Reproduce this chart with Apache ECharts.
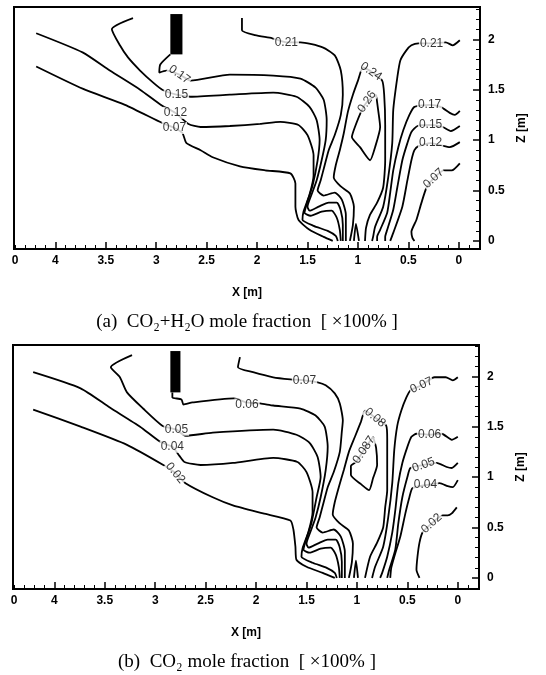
<!DOCTYPE html>
<html>
<head>
<meta charset="utf-8">
<script src="https://cdn.jsdelivr.net/npm/echarts@6/dist/echarts.min.js"></script>
<style>
  html, body { margin: 0; padding: 0; background: #fff; }
  #chart { width: 546px; height: 675px; }
</style>
</head>
<body>
<div id="chart"></div>
<script>
// axis ticks
const xMajor = [0, 0.5, 1, 1.5, 2, 2.5, 3, 3.5, 4];
const xLabelVals = [0, 0.5, 1, 1.5, 2, 2.5, 3, 3.5, 4, 4.4];
const xMinor = [-0.2, -0.1, 0.1, 0.2, 0.3, 0.4, 0.6, 0.7, 0.8, 0.9, 1.1, 1.2, 1.3, 1.4, 1.6, 1.7, 1.8, 1.9,
  2.1, 2.2, 2.3, 2.4, 2.6, 2.7, 2.8, 2.9, 3.1, 3.2, 3.3, 3.4, 3.6, 3.7, 3.8, 3.9, 4.1, 4.2, 4.3, 4.4];
const zMajor = [0, 0.5, 1, 1.5, 2];
const zMinor = [0.1, 0.2, 0.3, 0.4, 0.6, 0.7, 0.8, 0.9, 1.1, 1.2, 1.3, 1.4, 1.6, 1.7, 1.8, 1.9, 2.1, 2.2, 2.3];

// (a) CO2+H2O contours, [x, z] in m
const a07L = [[4.19,1.73],[3.73,1.51],[3.31,1.35],[2.94,1.17],[2.82,1.12],[2.74,1.07],[2.70,0.97],[2.56,0.90],[2.44,0.83],[2.17,0.74],[1.92,0.70],[1.67,0.67],[1.62,0.57],[1.62,0.34],[1.59,0.21],[1.48,0.11],[1.34,0.04],[1.25,0]];
const a12L = [[4.19,2.06],[3.73,1.87],[3.46,1.69],[3.16,1.50],[2.94,1.34],[2.81,1.27],[2.68,1.16],[2.56,1.13],[2.27,1.14],[1.97,1.16],[1.77,1.18],[1.59,1.15],[1.50,1.05],[1.44,0.85],[1.44,0.65],[1.48,0.46],[1.54,0.29],[1.55,0.21],[1.44,0.15],[1.30,0.10],[1.22,0.05],[1.20,0]];
const a15L = [[3.23,2.21],[3.44,2.10],[3.36,1.94],[3.28,1.82],[3.16,1.69],[3.03,1.57],[2.94,1.50],[2.80,1.45],[2.66,1.43],[2.27,1.45],[1.84,1.47],[1.61,1.43],[1.48,1.33],[1.41,1.20],[1.38,1.00],[1.40,0.80],[1.45,0.55],[1.51,0.36],[1.53,0.28],[1.47,0.25],[1.36,0.29],[1.26,0.30],[1.21,0.23],[1.18,0.11],[1.17,0]];
const a17L = [[2.86,1.85],[2.96,1.75],[2.97,1.67],[2.90,1.69],[2.77,1.65],[2.66,1.59],[2.27,1.65],[1.84,1.64],[1.57,1.61],[1.42,1.52],[1.34,1.40],[1.31,1.20],[1.32,1.00],[1.36,0.80],[1.41,0.60],[1.46,0.46],[1.50,0.34],[1.48,0.30],[1.39,0.34],[1.29,0.38],[1.21,0.38],[1.17,0.30],[1.15,0.16],[1.15,0]];
const a21L = [[2.15,2.21],[2.15,2.09],[2.02,2.04],[1.85,2.01],[1.71,1.97],[1.57,1.97],[1.35,1.92],[1.23,1.84],[1.17,1.69],[1.15,1.45],[1.17,1.25],[1.23,1.05],[1.29,0.90],[1.33,0.75],[1.37,0.60],[1.40,0.50],[1.34,0.45],[1.23,0.48],[1.16,0.41],[1.12,0.26],[1.12,0]];
const a24 = [[1.08,0],[1.05,0.16],[1.04,0.34],[1.08,0.47],[1.17,0.54],[1.24,0.63],[1.22,0.75],[1.18,0.90],[1.14,1.07],[1.10,1.28],[1.05,1.45],[1.00,1.59],[0.95,1.72],[0.87,1.68],[0.76,1.59],[0.74,1.45],[0.73,1.15],[0.73,0.80],[0.75,0.53],[0.81,0.38],[0.88,0.26],[0.92,0.13],[0.93,0]];
const a26 = [[0.82,1.45],[0.80,1.30],[0.78,1.13],[0.83,0.93],[0.88,0.80],[0.98,0.93],[1.06,1.03],[1.03,1.13],[0.96,1.30],[0.91,1.38],[0.82,1.45]];
const aSpike = [[1.04,0],[1.02,0.17],[0.99,0]];
const a21R = [[0.86,0],[0.85,0.04],[0.83,0.14],[0.75,0.34],[0.70,0.63],[0.66,0.97],[0.65,1.30],[0.61,1.62],[0.58,1.79],[0.52,1.89],[0.47,1.94],[0.40,1.96],[0.27,1.96],[0.13,1.97],[0.06,1.94],[-0.01,1.99]];
const a17R = [[0.81,0],[0.81,0.04],[0.78,0.11],[0.71,0.28],[0.68,0.48],[0.65,0.70],[0.60,0.93],[0.55,1.10],[0.49,1.25],[0.44,1.33],[0.29,1.35],[0.18,1.33],[0.09,1.27],[0.04,1.25],[-0.01,1.29]];
const a15R = [[0.73,0],[0.73,0.04],[0.71,0.11],[0.65,0.31],[0.61,0.53],[0.56,0.80],[0.51,0.97],[0.47,1.08],[0.41,1.14],[0.28,1.15],[0.16,1.13],[0.08,1.09],[-0.01,1.14]];
const a12R = [[0.68,0],[0.65,0.08],[0.56,0.34],[0.51,0.60],[0.47,0.80],[0.44,0.90],[0.40,0.94],[0.28,0.97],[0.18,0.95],[0.09,0.93],[-0.01,0.98]];
const a07R = [[0.44,0],[0.46,0.03],[0.47,0.09],[0.42,0.21],[0.37,0.38],[0.32,0.53],[0.25,0.62],[0.15,0.70],[0.07,0.70],[-0.01,0.77]];
const aBurner = [2.86, 2.74, 1.85, 2.25];
const aLabels = [
  ['0.17', 2.77, 1.65, -35], ['0.15', 2.80, 1.45, 0], ['0.12', 2.81, 1.27, 0], ['0.07', 2.82, 1.12, 0],
  ['0.21', 1.71, 1.97, 0], ['0.24', 0.87, 1.68, -35], ['0.26', 0.91, 1.38, 55],
  ['0.21', 0.27, 1.96, 0], ['0.17', 0.29, 1.35, 0], ['0.15', 0.28, 1.15, 0], ['0.12', 0.28, 0.97, 0], ['0.07', 0.25, 0.62, 42]
];

// (b) CO2 contours
const b02L = [[4.21,1.67],[3.74,1.50],[3.28,1.32],[2.92,1.12],[2.80,1.04],[2.70,0.94],[2.43,0.80],[2.23,0.72],[1.93,0.64],[1.66,0.57],[1.63,0.48],[1.61,0.31],[1.60,0.18],[1.50,0.11],[1.34,0.05],[1.22,0]];
const b04L = [[4.21,2.04],[3.74,1.88],[3.45,1.69],[3.15,1.50],[2.95,1.35],[2.83,1.30],[2.76,1.21],[2.71,1.15],[2.55,1.12],[2.23,1.14],[1.83,1.19],[1.59,1.15],[1.50,1.05],[1.44,0.85],[1.44,0.65],[1.48,0.46],[1.54,0.29],[1.55,0.21],[1.44,0.15],[1.30,0.10],[1.22,0.05],[1.20,0]];
const b05L = [[3.23,2.21],[3.44,2.09],[3.35,1.99],[3.28,1.84],[3.12,1.68],[2.93,1.51],[2.79,1.47],[2.70,1.41],[2.43,1.44],[1.83,1.47],[1.60,1.42],[1.47,1.34],[1.39,1.20],[1.36,1.00],[1.40,0.80],[1.45,0.55],[1.51,0.36],[1.53,0.28],[1.47,0.25],[1.36,0.29],[1.26,0.30],[1.21,0.23],[1.18,0.11],[1.17,0]];
const b06L = [[2.83,1.84],[2.83,1.79],[2.74,1.77],[2.72,1.72],[2.63,1.74],[2.22,1.78],[2.09,1.74],[1.96,1.73],[1.83,1.71],[1.56,1.68],[1.41,1.61],[1.32,1.50],[1.29,1.30],[1.31,1.07],[1.36,0.80],[1.41,0.60],[1.46,0.46],[1.50,0.34],[1.48,0.30],[1.39,0.34],[1.29,0.38],[1.21,0.38],[1.17,0.30],[1.15,0.16],[1.15,0]];
const b07L = [[2.16,2.19],[2.18,2.09],[2.03,2.04],[1.83,1.99],[1.66,1.97],[1.52,1.96],[1.39,1.94],[1.31,1.91],[1.22,1.83],[1.17,1.73],[1.14,1.56],[1.15,1.45],[1.17,1.25],[1.23,1.05],[1.29,0.90],[1.33,0.75],[1.37,0.60],[1.40,0.50],[1.34,0.45],[1.23,0.48],[1.16,0.41],[1.12,0.26],[1.12,0]];
const b08 = [[1.08,0],[1.05,0.16],[1.04,0.34],[1.08,0.47],[1.17,0.54],[1.24,0.63],[1.22,0.75],[1.18,0.90],[1.13,1.07],[1.08,1.25],[1.02,1.40],[0.96,1.55],[0.92,1.66],[0.82,1.59],[0.71,1.51],[0.70,1.38],[0.70,1.14],[0.70,0.87],[0.72,0.70],[0.74,0.50],[0.80,0.35],[0.87,0.21],[0.92,0]];
const b087 = [[0.84,1.40],[0.81,1.29],[0.80,1.12],[0.84,0.99],[0.88,0.87],[0.96,0.93],[1.06,1.02],[1.06,1.11],[1.01,1.15],[0.93,1.27],[0.84,1.40]];
const bSpike = [[1.03,0],[1.01,0.17],[0.99,0]];
const b07R = [[0.85,0],[0.82,0.11],[0.74,0.31],[0.69,0.60],[0.65,0.94],[0.63,1.27],[0.60,1.51],[0.56,1.66],[0.51,1.79],[0.47,1.86],[0.36,1.91],[0.23,1.99],[0.12,1.99],[0.05,1.96],[0,1.99]];
const b06R = [[0.77,0],[0.75,0.05],[0.70,0.21],[0.65,0.45],[0.62,0.67],[0.59,0.94],[0.55,1.14],[0.50,1.30],[0.46,1.40],[0.41,1.43],[0.28,1.42],[0.16,1.43],[0.06,1.37],[0,1.40]];
const b05R = [[0.70,0],[0.68,0.08],[0.62,0.28],[0.59,0.54],[0.55,0.80],[0.50,1.00],[0.47,1.09],[0.34,1.12],[0.21,1.14],[0.11,1.10],[0.06,1.09],[0,1.14]];
const b04R = [[0.67,0],[0.66,0.10],[0.63,0.21],[0.57,0.41],[0.52,0.64],[0.48,0.80],[0.45,0.89],[0.32,0.92],[0.18,0.94],[0.10,0.91],[0.05,0.90],[0,0.97]];
const b02R = [[0.38,0],[0.41,0.08],[0.40,0.21],[0.38,0.35],[0.35,0.45],[0.26,0.54],[0.15,0.62],[0.10,0.62],[0.06,0.64],[0.01,0.70]];
const bBurner = [2.85, 2.75, 1.84, 2.25];
const bLabels = [
  ['0.06', 2.09, 1.72, 0], ['0.05', 2.79, 1.47, 0], ['0.04', 2.83, 1.30, 0], ['0.02', 2.80, 1.04, -50],
  ['0.07', 1.52, 1.96, 0], ['0.08', 0.82, 1.59, -40], ['0.087', 0.93, 1.27, 56],
  ['0.07', 0.36, 1.91, 25], ['0.06', 0.28, 1.42, 0], ['0.05', 0.34, 1.12, 20], ['0.04', 0.32, 0.92, 0], ['0.02', 0.26, 0.54, 42]
];

const topLines = [a07L, a12L, a15L, a17L, a21L, a24, a26, aSpike, a21R, a17R, a15R, a12R, a07R];
const botLines = [b02L, b04L, b05L, b06L, b07L, b08, b087, bSpike, b07R, b06R, b05R, b04R, b02R];

const sans = 'Liberation Sans';
const black = '#000';

function xAxes(g) {
  return [
    {
      gridIndex: g, type: 'value', min: -0.21, max: 4.41, inverse: true, position: 'bottom',
      axisLine: { onZero: false, lineStyle: { color: black, width: 2 } },
      axisTick: { inside: true, length: 7, customValues: xMajor, lineStyle: { color: black, width: 1.5 } },
      axisLabel: {
        customValues: xLabelVals, margin: 6, color: black, fontSize: 12, fontWeight: 'bold', fontFamily: sans,
        formatter: v => (v > 4.2 ? '0' : String(v))
      },
      splitLine: { show: false },
      name: 'X [m]', nameLocation: 'middle', nameGap: 38,
      nameTextStyle: { color: black, fontSize: 12, fontWeight: 'bold', fontFamily: sans }
    },
    {
      gridIndex: g, type: 'value', min: -0.21, max: 4.41, inverse: true, position: 'bottom',
      axisLine: { onZero: false, lineStyle: { color: black, width: 2 } },
      axisTick: { inside: true, length: 4, customValues: xMinor, lineStyle: { color: black, width: 1 } },
      axisLabel: { show: false },
      splitLine: { show: false }
    }
  ];
}

function zAxes(g, zMin, zMax) {
  return [
    {
      gridIndex: g, type: 'value', min: zMin, max: zMax, position: 'right',
      axisLine: { onZero: false, lineStyle: { color: black, width: 2 } },
      axisTick: { inside: true, length: 7, customValues: zMajor, lineStyle: { color: black, width: 1.5 } },
      axisLabel: { customValues: zMajor, margin: 8, color: black, fontSize: 12, fontWeight: 'bold', fontFamily: sans },
      splitLine: { show: false },
      name: 'Z [m]', nameLocation: 'middle', nameRotate: 90, nameGap: 36,
      nameTextStyle: { color: black, fontSize: 12, fontWeight: 'bold', fontFamily: sans }
    },
    {
      gridIndex: g, type: 'value', min: zMin, max: zMax, position: 'right',
      axisLine: { onZero: false, lineStyle: { color: black, width: 2 } },
      axisTick: { inside: true, length: 4, customValues: zMinor, lineStyle: { color: black, width: 1 } },
      axisLabel: { show: false },
      splitLine: { show: false }
    }
  ];
}

function contourSeries(lines, axis) {
  return lines.map(pts => ({
    type: 'line', xAxisIndex: axis, yAxisIndex: axis, data: pts,
    symbol: 'none', smooth: 0.2, silent: true, z: 2,
    lineStyle: { color: black, width: 1.8 }
  }));
}

function labelSeries(labels, axis) {
  return {
    type: 'scatter', xAxisIndex: axis, yAxisIndex: axis, symbolSize: 1, silent: true, z: 5,
    itemStyle: { color: 'transparent' },
    label: {
      show: true, position: 'inside', formatter: '{b}', color: black, fontSize: 12, fontFamily: sans,
      backgroundColor: '#fff', padding: [0, 1]
    },
    data: labels.map(l => ({ name: l[0], value: [l[1], l[2]], label: { rotate: l[3] } }))
  };
}

function burnerSeries(b, axis) {
  return {
    type: 'custom', xAxisIndex: axis, yAxisIndex: axis, silent: true, z: 4,
    data: [b],
    renderItem: (params, api) => {
      const p0 = api.coord([api.value(0), api.value(3)]);
      const p1 = api.coord([api.value(1), api.value(2)]);
      return {
        type: 'rect',
        shape: { x: Math.min(p0[0], p1[0]), y: Math.min(p0[1], p1[1]), width: Math.abs(p1[0] - p0[0]), height: Math.abs(p1[1] - p0[1]) },
        style: { fill: black }
      };
    }
  };
}

const myChart = echarts.init(document.getElementById('chart'));
const option = {
  animation: false,
  backgroundColor: '#fff',
  grid: [
    { left: 14, top: 7, width: 466, height: 242, show: true, borderColor: black, borderWidth: 2 },
    { left: 13, top: 345, width: 466, height: 244, show: true, borderColor: black, borderWidth: 2 }
  ],
  xAxis: [...xAxes(0), ...xAxes(1)],
  yAxis: [...zAxes(0, -0.08, 2.32), ...zAxes(1, -0.11, 2.31)],
  series: [
    ...contourSeries(topLines, 0),
    labelSeries(aLabels, 0),
    burnerSeries(aBurner, 0),
    ...contourSeries(botLines, 2),
    labelSeries(bLabels, 2),
    burnerSeries(bBurner, 2)
  ],
  graphic: [
    {
      type: 'text', x: 247, y: 322,
      style: { text: '(a)  CO₂+H₂O mole fraction  [ ×100% ]', fontSize: 19, fontFamily: 'Liberation Serif', fill: black, align: 'center', verticalAlign: 'middle' }
    },
    {
      type: 'text', x: 247, y: 662,
      style: { text: '(b)  CO₂ mole fraction  [ ×100% ]', fontSize: 19, fontFamily: 'Liberation Serif', fill: black, align: 'center', verticalAlign: 'middle' }
    }
  ]
};
myChart.setOption(option);
</script>
</body>
</html>
